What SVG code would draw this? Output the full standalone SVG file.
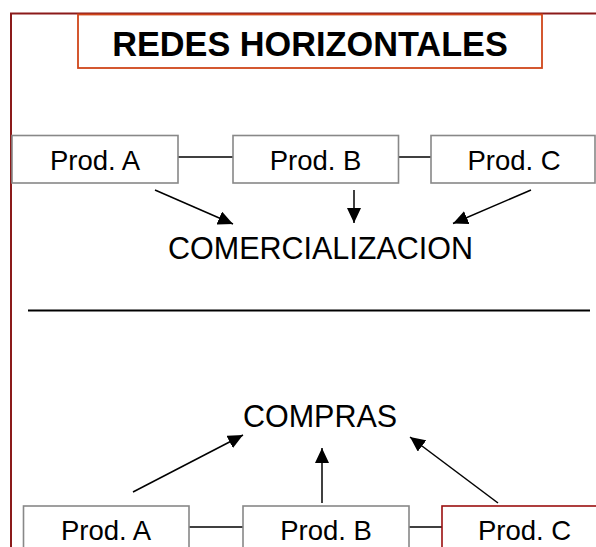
<svg xmlns="http://www.w3.org/2000/svg" width="596" height="547" viewBox="0 0 596 547">
<defs>
<style>
.box{fill:#fff;stroke:#888;stroke-width:1.6}
.boxred{fill:#fff;stroke:#9b1010;stroke-width:1.6}
.lbl{font-family:"Liberation Sans",Arial,sans-serif;font-size:27.5px;fill:#000;text-anchor:middle}
.big{font-family:"Liberation Sans",Arial,sans-serif;font-size:30.5px;fill:#000;text-anchor:middle}
.ln{stroke:#000;stroke-width:1.5;fill:none}
.arr{stroke:#000;stroke-width:1.5;fill:none;marker-end:url(#ah)}
</style>
<marker id="ah" viewBox="0 0 15 14" refX="15" refY="7" markerWidth="15" markerHeight="14" markerUnits="userSpaceOnUse" orient="auto">
<path d="M0,0 L15,7 L0,14 z" fill="#000"/>
</marker>
</defs>
<rect width="596" height="547" fill="#fff"/>
<g id="frame">
<path d="M11,547 V13.5 H596" fill="none" stroke="#8b1a1a" stroke-width="2"/>
</g>
<g id="title">
<rect x="78" y="14.5" width="464" height="53.5" fill="#fff" stroke="#d0461a" stroke-width="1.8"/>
<text x="310" y="56" font-family="'Liberation Sans',Arial,sans-serif" font-size="34.3" font-weight="bold" text-anchor="middle">REDES HORIZONTALES</text>
</g>
<g id="connectors">
<line class="ln" x1="178" y1="157" x2="233" y2="157"/>
<line class="ln" x1="398" y1="157" x2="431" y2="157"/>
<line class="arr" x1="155" y1="190" x2="233" y2="224"/>
<line class="arr" x1="354" y1="190" x2="354" y2="223"/>
<line class="arr" x1="531" y1="190" x2="453" y2="223.5"/>
<line x1="28" y1="310.5" x2="590" y2="310.5" stroke="#000" stroke-width="2"/>
<line class="arr" x1="133" y1="492" x2="243" y2="435"/>
<line class="arr" x1="322" y1="503" x2="322" y2="448"/>
<line class="arr" x1="498" y1="503" x2="410" y2="437"/>
<line class="ln" x1="189" y1="527" x2="243" y2="527"/>
<line class="ln" x1="409" y1="527" x2="442" y2="527"/>
</g>
<g id="topA"><rect class="box" x="12" y="135.5" width="166" height="47.5"/><text class="lbl" x="95" y="169.5">Prod. A</text></g>
<g id="topB"><rect class="box" x="233" y="135.5" width="165.5" height="47.5"/><text class="lbl" x="315.5" y="169.5">Prod. B</text></g>
<g id="topC"><rect class="box" x="431" y="135.5" width="164" height="47.5"/><text class="lbl" x="514" y="169.5">Prod. C</text></g>
<g id="comercializacion"><text class="big" x="320.5" y="259">COMERCIALIZACION</text></g>
<g id="compras"><text class="big" x="320" y="427">COMPRAS</text></g>
<g id="botA"><rect class="box" x="23.5" y="506" width="165.5" height="60"/><text class="lbl" x="106" y="539.5">Prod. A</text></g>
<g id="botB"><rect class="box" x="243" y="506" width="166" height="60"/><text class="lbl" x="326" y="539.5">Prod. B</text></g>
<g id="botC"><rect class="boxred" x="442" y="506" width="170" height="60"/><text class="lbl" x="524.5" y="539.5">Prod. C</text></g>
</svg>
